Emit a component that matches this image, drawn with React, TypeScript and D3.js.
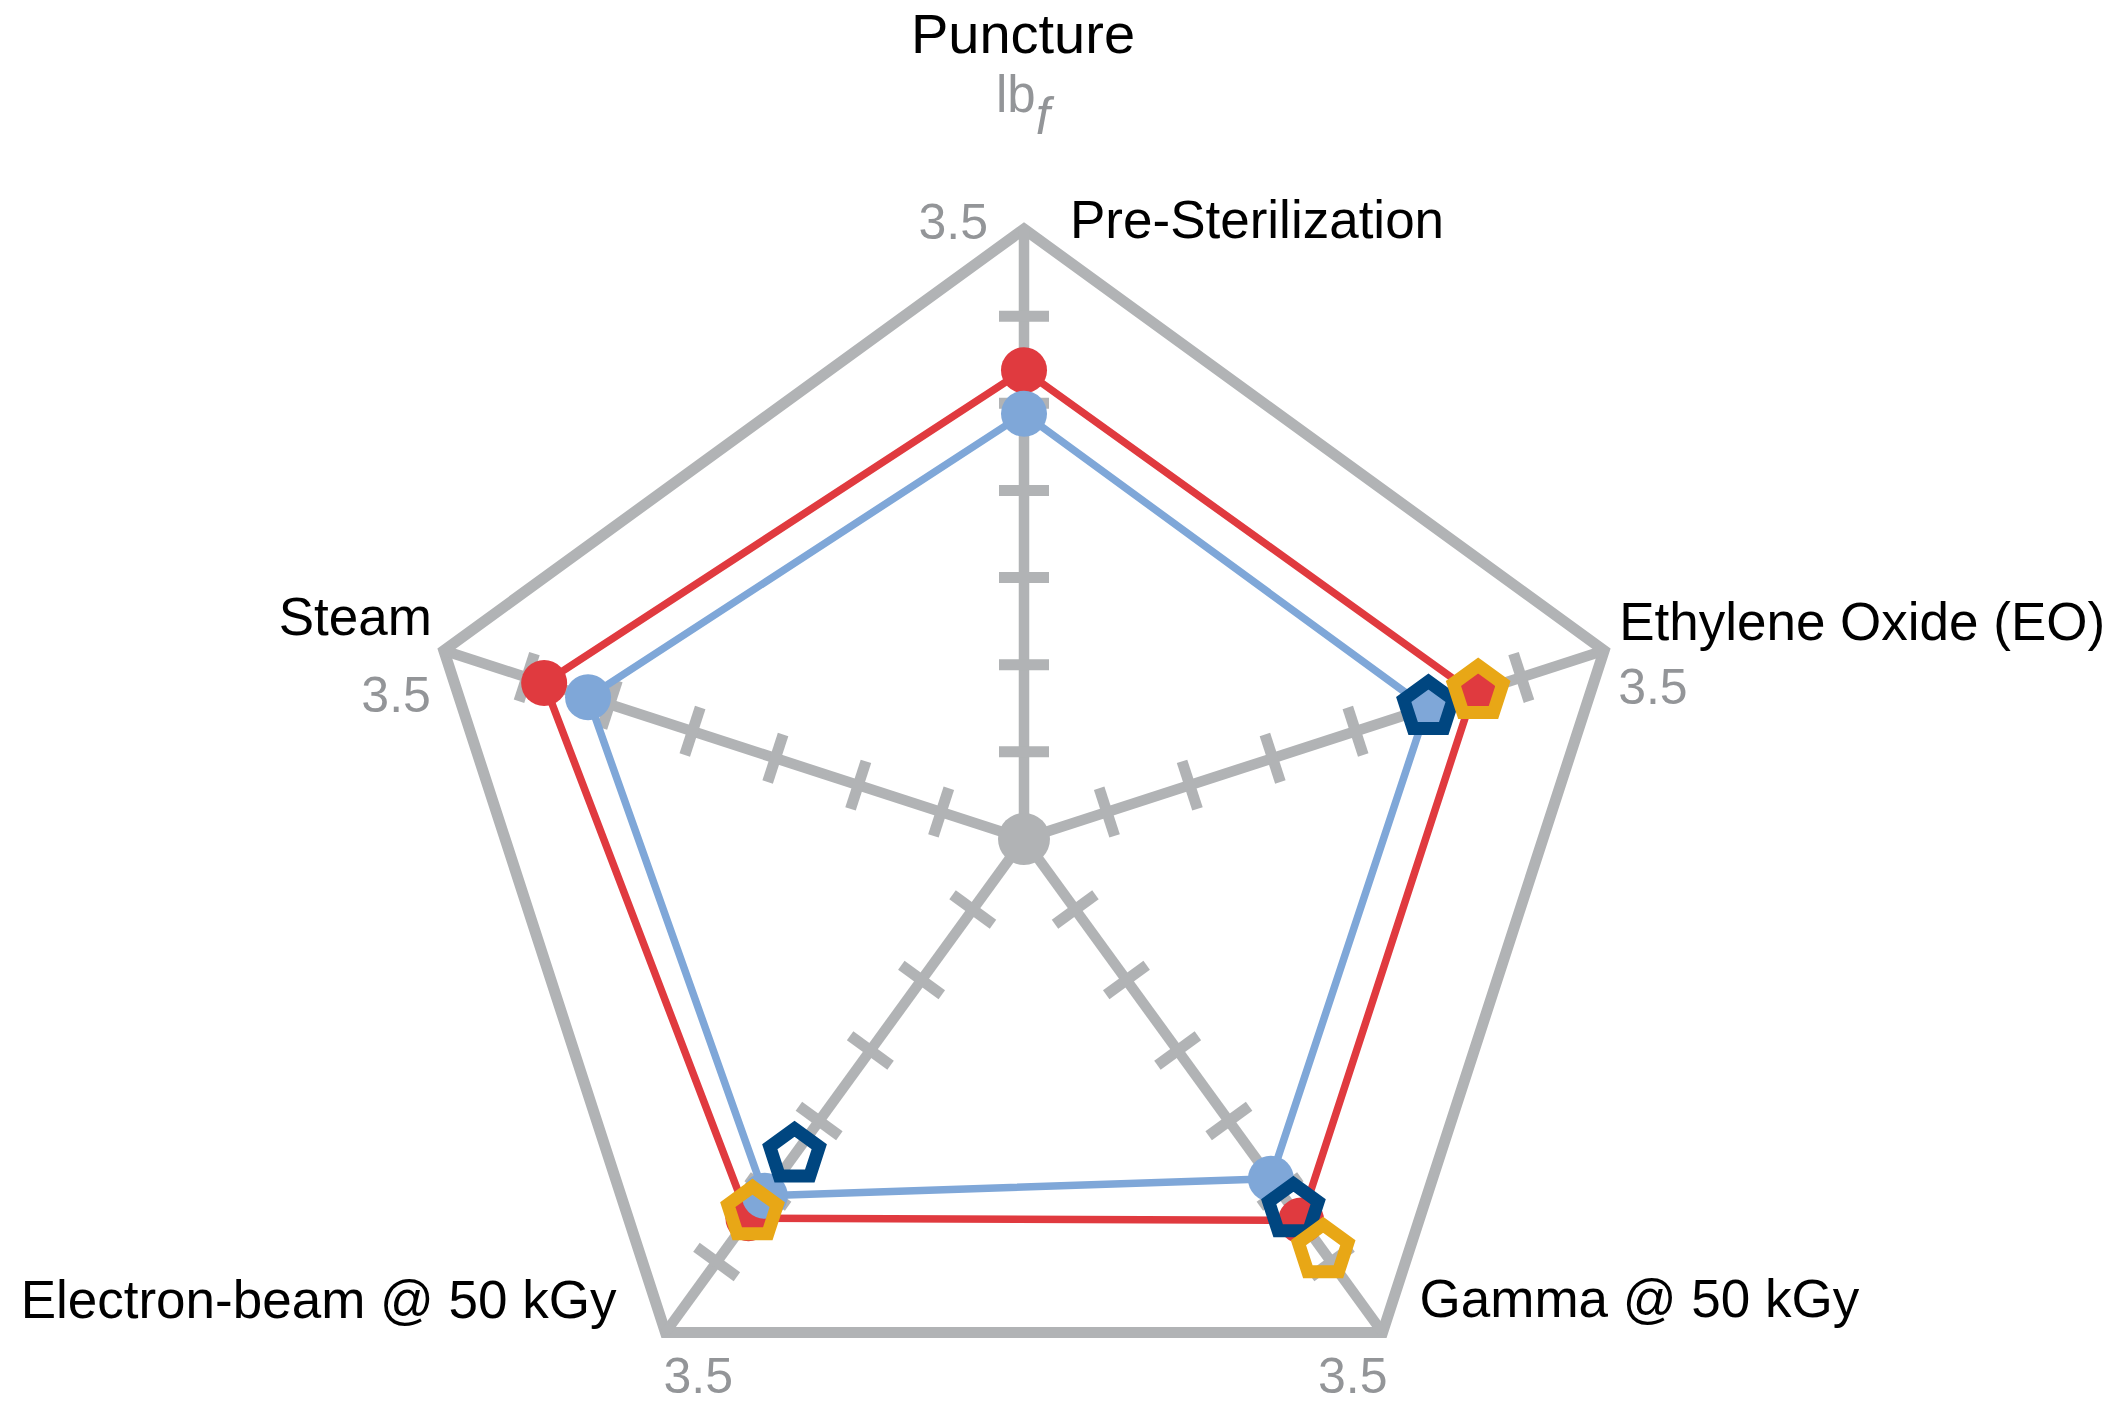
import React from "react";
import * as d3 from "d3";

// ---- data ----
const axisNames = [
  "Pre-Sterilization",
  "Ethylene Oxide (EO)",
  "Gamma @ 50 kGy",
  "Electron-beam @ 50 kGy",
  "Steam",
];
const redValues = [2.69, 2.71, 2.705, 2.69, 2.895];
const lightBlueValues = [2.44, 2.43, 2.41, 2.53, 2.63];
const darkBlueValues: (number | null)[] = [null, 2.44, 2.63, 2.24, null];
const goldValues: (number | null)[] = [null, 2.74, 2.92, 2.65, null];
const tickValues = [0.5, 1, 1.5, 2, 2.5, 3];
const maxValue = 3.5;
const maxLabel = "3.5";
const title = "Puncture";
const unitMain = "lb";
const unitSub = "f";

// ---- layout / style ----
const W = 2123;
const H = 1403;
const CX = 1024;
const CY = 839;
const RADIUS = 610;
const GRAY = "#b1b3b5";
const TEXT_GRAY = "#939598";
const RED = "#e03a3f";
const LIGHT_BLUE = "#7fa7d8";
const DARK_BLUE = "#004680";
const GOLD = "#e8a716";
const FONT = "'Liberation Sans', Arial, Helvetica, sans-serif";

// label placement relative to each vertex: [dx, dy, anchor]
const nameOffsets: [number, number, string][] = [
  [46, 9, "start"],
  [15, -10, "start"],
  [37, -16, "start"],
  [-49, -15, "end"],
  [-12, -15, "end"],
];
const maxOffsets: [number, number, string][] = [
  [-36, 10, "end"],
  [14, 54, "start"],
  [5, 60, "end"],
  [-2, 60, "start"],
  [-13, 62, "end"],
];

const rScale = d3.scaleLinear().domain([0, maxValue]).range([0, RADIUS]);
const n = axisNames.length;
const angle = (i: number) => (i * 2 * Math.PI) / n;
const pt = (i: number, v: number): [number, number] => {
  const r = rScale(v);
  const a = angle(i);
  return [CX + r * Math.sin(a), CY - r * Math.cos(a)];
};

const lineGen = d3.line<[number, number]>().curve(d3.curveLinearClosed);

function pentagonPath(x: number, y: number, r: number) {
  const pts: [number, number][] = d3.range(5).map((k) => {
    const a = (k * 2 * Math.PI) / 5;
    return [x + r * Math.sin(a), y - r * Math.cos(a)];
  });
  return lineGen(pts) as string;
}

export default function App() {
  const frame = lineGen(axisNames.map((_, i) => pt(i, maxValue))) as string;
  const redPts = redValues.map((v, i) => pt(i, v));
  const bluePts = lightBlueValues.map((v, i) => pt(i, v));

  return (
    <svg
      width={W}
      height={H}
      viewBox={`0 0 ${W} ${H}`}
      style={{ position: "absolute", left: 0, top: 0, background: "#fff" }}
      fontFamily={FONT}
    >
      <rect x={0} y={0} width={W} height={H} fill="#fff" />
      {/* frame */}
      <path d={frame} fill="none" stroke={GRAY} strokeWidth={11} strokeLinejoin="miter" strokeMiterlimit={10} />
      {/* axes */}
      {axisNames.map((_, i) => {
        const [x2, y2] = pt(i, maxValue);
        return <line key={"ax" + i} x1={CX} y1={CY} x2={x2} y2={y2} stroke={GRAY} strokeWidth={10.5} />;
      })}
      {/* ticks */}
      {axisNames.map((_, i) =>
        tickValues.map((t) => {
          const [x, y] = pt(i, t);
          const a = angle(i);
          const px = Math.cos(a) * 25;
          const py = Math.sin(a) * 25;
          return (
            <line
              key={"t" + i + "-" + t}
              x1={x - px}
              y1={y - py}
              x2={x + px}
              y2={y + py}
              stroke={GRAY}
              strokeWidth={11}
            />
          );
        })
      )}
      <circle cx={CX} cy={CY} r={26} fill={GRAY} />

      {/* red series */}
      <path d={lineGen(redPts) as string} fill="none" stroke={RED} strokeWidth={7.5} strokeLinejoin="round" />
      {redPts.map(([x, y], i) => (
        <circle key={"r" + i} cx={x} cy={y} r={23} fill={RED} />
      ))}
      {/* light blue series */}
      <path d={lineGen(bluePts) as string} fill="none" stroke={LIGHT_BLUE} strokeWidth={7.5} strokeLinejoin="round" />
      {bluePts.map(([x, y], i) => (
        <circle key={"b" + i} cx={x} cy={y} r={23} fill={LIGHT_BLUE} />
      ))}
      {/* dark blue pentagons */}
      {darkBlueValues.map((v, i) => {
        if (v == null) return null;
        const [x, y] = pt(i, v);
        return (
          <path key={"db" + i} d={pentagonPath(x, y, 26)} fill="none" stroke={DARK_BLUE} strokeWidth={13} strokeLinejoin="miter" />
        );
      })}
      {/* gold pentagons */}
      {goldValues.map((v, i) => {
        if (v == null) return null;
        const [x, y] = pt(i, v);
        return (
          <path key={"g" + i} d={pentagonPath(x, y, 26)} fill="none" stroke={GOLD} strokeWidth={13} strokeLinejoin="miter" />
        );
      })}

      {/* axis names */}
      {axisNames.map((name, i) => {
        const [x, y] = pt(i, maxValue);
        const [dx, dy, anchor] = nameOffsets[i];
        return (
          <text key={"n" + i} x={x + dx} y={y + dy} fontSize={53} fill="#000" textAnchor={anchor}>
            {name}
          </text>
        );
      })}
      {/* max labels */}
      {axisNames.map((_, i) => {
        const [x, y] = pt(i, maxValue);
        const [dx, dy, anchor] = maxOffsets[i];
        return (
          <text key={"m" + i} x={x + dx} y={y + dy} fontSize={50} fill={TEXT_GRAY} textAnchor={anchor}>
            {maxLabel}
          </text>
        );
      })}

      {/* title */}
      <text x={CX - 1} y={53} fontSize={56} textAnchor="middle" fill="#000">
        {title}
      </text>
      <text x={996} y={112} fontSize={51} fill={TEXT_GRAY}>
        {unitMain}
        <tspan dy={22} fontStyle="italic">
          {unitSub}
        </tspan>
      </text>
    </svg>
  );
}
